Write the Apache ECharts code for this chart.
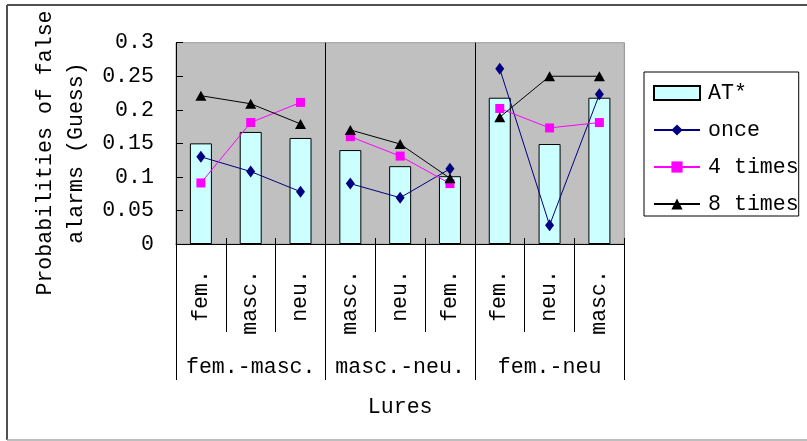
<!DOCTYPE html>
<html>
<head>
<meta charset="utf-8">
<script src="https://cdn.jsdelivr.net/npm/echarts@6/dist/echarts.min.js"></script>
<style>
  html, body { margin: 0; padding: 0; background: #fff; }
  #chart { width: 807px; height: 441px; }
</style>
</head>
<body>
<div id="chart"></div>
<script>
// Lure categories, grouped in threes by pair condition
const lures = ['fem.', 'masc.', 'neu.', 'masc.', 'neu.', 'fem.', 'fem.', 'neu.', 'masc.'];
const pairs = ['fem.-masc.', 'masc.-neu.', 'fem.-neu'];

// Probabilities of false alarms per lure
const atValues   = [0.150, 0.167, 0.158, 0.140, 0.116, 0.101, 0.218, 0.149, 0.218];
const onceValues = [0.130, 0.108, 0.078, 0.090, 0.069, 0.112, 0.261, 0.028, 0.223];
const fourValues = [0.091, 0.181, 0.211, 0.160, 0.131, 0.090, 0.202, 0.173, 0.181];
const eightValues = [0.221, 0.209, 0.179, 0.170, 0.149, 0.098, 0.189, 0.250, 0.250];

const FONT = 'Liberation Mono';
const FS = 21.6;
const txt = { fontFamily: FONT, fontSize: FS, color: '#000' };

// One line segment per pair group, so lines do not join across groups
function groupSlices(name, values, color, symbol, size) {
  return pairs.map((p, g) => ({
    name: name,
    type: 'line',
    xAxisIndex: 0,
    data: values.map((v, i) => (Math.floor(i / 3) === g ? v : null)),
    connectNulls: false,
    symbol: symbol,
    symbolSize: size,
    lineStyle: { color: color, width: 1 },
    itemStyle: { color: color },
    z: 4,
    animation: false
  }));
}

const chart = echarts.init(document.getElementById('chart'), null, { renderer: 'canvas' });

chart.setOption({
  animation: false,
  backgroundColor: '#fff',
  grid: {
    left: 176, top: 42.7, right: 182.7, bottom: 197,
    show: true, backgroundColor: '#C0C0C0', borderColor: '#9a9a9a', borderWidth: 1
  },
  legend: {
    orient: 'vertical',
    left: 644, top: 72,
    data: [{ name: 'AT*', icon: 'rect' }, 'once', '4 times', '8 times'],
    itemWidth: 46, itemHeight: 14, itemGap: 15,
    padding: [10, 0, 1, 9],
    borderColor: '#000', borderWidth: 1,
    textStyle: { fontFamily: FONT, fontSize: FS, color: '#000', padding: [0, 0, 0, 3] },
    selectedMode: false
  },
  xAxis: [
    {
      type: 'category', data: lures, position: 'bottom', boundaryGap: true,
      axisLine: { show: true, lineStyle: { color: '#000', width: 1 } },
      axisTick: { show: true, interval: 0, length: 88, lineStyle: { color: '#000', width: 1 } },
      axisLabel: Object.assign({ interval: 0, rotate: 90, margin: 26 }, txt),
      splitLine: { show: false },
      name: 'Lures', nameLocation: 'middle', nameGap: 152,
      nameTextStyle: txt,
      z: 6
    },
    {
      type: 'category', data: pairs, position: 'bottom', boundaryGap: true,
      axisLine: { show: false },
      axisTick: { show: true, interval: 0, length: 136, lineStyle: { color: '#000', width: 1 } },
      axisLabel: Object.assign({ interval: 0, margin: 112 }, txt),
      splitLine: { show: true, interval: 0, lineStyle: { color: ['#000', '#000', '#000', '#9a9a9a'], width: 1 } },
      z: 5
    },
    {
      type: 'category', data: lures, position: 'bottom', boundaryGap: true,
      axisLine: { show: false },
      axisTick: { show: true, inside: true, interval: 0, length: 6, lineStyle: { color: '#000', width: 1 } },
      axisLabel: { show: false },
      splitLine: { show: false },
      z: 5
    }
  ],
  yAxis: {
    type: 'value', min: 0, max: 0.3, interval: 0.05,
    axisLine: { show: true, lineStyle: { color: '#000', width: 1 } },
    axisTick: { show: true, inside: true, length: 7, lineStyle: { color: '#000', width: 1 } },
    axisLabel: Object.assign({ margin: 22 }, txt),
    splitLine: { show: false },
    z: 6
  },
  graphic: [
    { type: 'text', x: 45, y: 153, rotation: Math.PI / 2,
      style: { text: 'Probabilities of false', align: 'center', verticalAlign: 'middle',
        font: FS + 'px "' + FONT + '"', fill: '#000' } },
    { type: 'text', x: 76, y: 153, rotation: Math.PI / 2,
      style: { text: 'alarms (Guess)', align: 'center', verticalAlign: 'middle',
        font: FS + 'px "' + FONT + '"', fill: '#000' } },
    // outer frame
    { type: 'line', shape: { x1: 7, y1: 5, x2: 7, y2: 440 }, style: { stroke: '#505050', lineWidth: 2 } },
    { type: 'line', shape: { x1: 7, y1: 5, x2: 807, y2: 5 }, style: { stroke: '#505050', lineWidth: 2 } },
    { type: 'line', shape: { x1: 7, y1: 440, x2: 807, y2: 440 }, style: { stroke: '#a8a8a8', lineWidth: 1.5 } }
  ],
  series: [
    {
      name: 'AT*', type: 'bar', xAxisIndex: 0, data: atValues, barWidth: 22,
      itemStyle: { color: '#CCFFFF', borderColor: '#000', borderWidth: 1 },
      z: 3
    }
  ]
    .concat(groupSlices('once', onceValues, '#000080', 'diamond', [9, 12]))
    .concat(groupSlices('4 times', fourValues, '#FF00FF', 'rect', 9))
    .concat(groupSlices('8 times', eightValues, '#000000', 'triangle', [11, 10]))
});
</script>
</body>
</html>
